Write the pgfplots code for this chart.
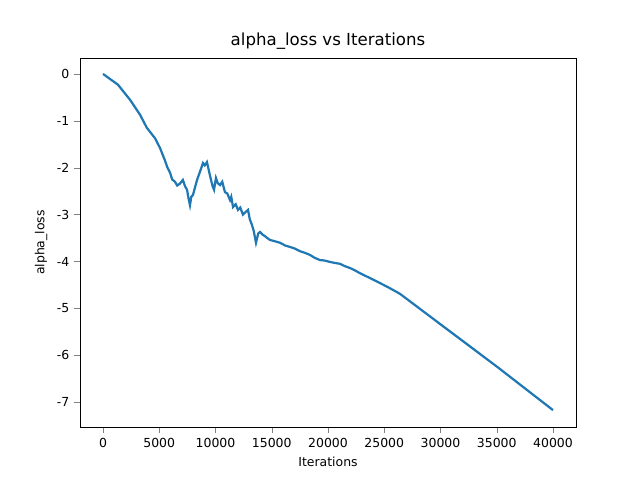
\documentclass[border=0pt]{standalone}
\usepackage{pgfplots}
\pgfplotsset{compat=1.18}
\usepackage{fontspec}
\setmainfont{DejaVu Sans}
\definecolor{mplblue}{HTML}{1F77B4}
\begin{document}
\begin{tikzpicture}
\useasboundingbox (-0.8in,-0.53in) rectangle (5.6in,4.27in);
\begin{axis}[at={(0,0)},anchor=south west,scale only axis,
width=4.96in,height=3.69in,
xmin=-2044,xmax=42044,ymin=-7.53,ymax=0.34,
xtick={0,5000,...,40000},ytick={-7,-6,...,0},
scaled x ticks=false,
xticklabel style={/pgf/number format/1000 sep=},
/pgf/number format/assume math mode=true,
tick align=outside,xtick pos=bottom,ytick pos=left,
ticklabel style={font=\small},
title={alpha\_loss vs Iterations},title style={font=\large,yshift=-3pt},
xlabel={Iterations},ylabel={alpha\_loss},
label style={font=\small}]
\addplot[mplblue,line width=1.6pt,no marks] coordinates {
(0,0)(1333,-0.23)(2400,-0.55)(3290,-0.87)(3900,-1.15)(4620,-1.37)(5070,-1.58)
(5300,-1.72)(5500,-1.84)(5700,-1.98)(5950,-2.1)(6150,-2.25)(6400,-2.3)(6600,-2.38)(6840,-2.34)
(7100,-2.26)(7300,-2.4)(7470,-2.47)(7600,-2.65)(7730,-2.8)(7850,-2.62)(8000,-2.58)(8200,-2.4)(8360,-2.26)
(8600,-2.1)(8890,-1.9)(9050,-1.95)(9240,-1.88)(9400,-2.05)(9600,-2.26)(9750,-2.4)(9870,-2.47)
(10040,-2.22)(10200,-2.33)(10400,-2.37)(10600,-2.3)(10840,-2.52)(11050,-2.55)(11290,-2.69)
(11400,-2.62)(11560,-2.84)(11800,-2.78)(12000,-2.9)(12200,-2.85)(12440,-3.0)(12650,-2.95)(12890,-2.9)
(13050,-3.1)(13240,-3.22)(13400,-3.35)(13600,-3.6)(13800,-3.4)(13960,-3.37)(14200,-3.43)
(14400,-3.46)(14600,-3.5)(14840,-3.54)(15300,-3.57)(15730,-3.6)(16200,-3.66)(16620,-3.69)
(17000,-3.72)(17510,-3.78)(18000,-3.82)(18400,-3.86)(18800,-3.92)(19290,-3.97)(19700,-3.98)
(20180,-4.01)(20600,-4.03)(21070,-4.05)(21500,-4.1)(21960,-4.14)(22400,-4.19)(22840,-4.25)
(23700,-4.35)(24620,-4.46)(25500,-4.57)(26400,-4.69)(30000,-5.34)(35000,-6.24)(40000,-7.17)
};
\end{axis}
\end{tikzpicture}
\end{document}
